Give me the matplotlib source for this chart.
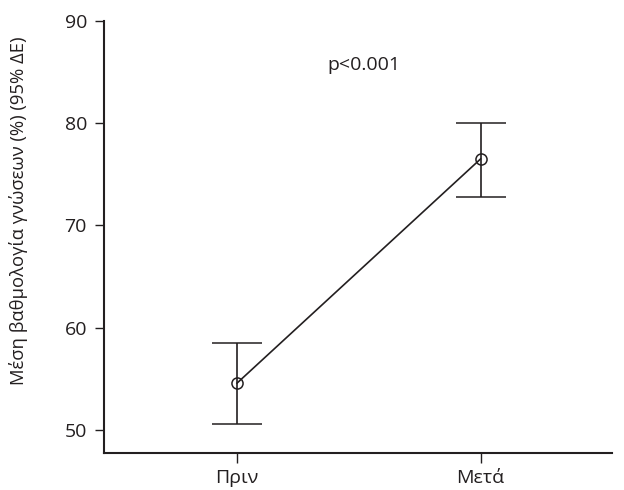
import matplotlib.pyplot as plt

plt.rcParams['font.family'] = ['Open Sans', 'DejaVu Sans']

# Data
GROUPS = ["Πριν", "Μετά"]
MEANS = [54.6, 76.5]
CI_LOW = [50.6, 72.75]
CI_HIGH = [58.55, 80.05]
INK = '#231f20'


def main():
    fig = plt.figure(figsize=(6.24, 4.9), dpi=100)
    ax = fig.add_axes([0.1672, 0.0761, 0.8138, 0.8817])

    x = [1, 2]
    yerr = [[m - lo for m, lo in zip(MEANS, CI_LOW)],
            [hi - m for m, hi in zip(MEANS, CI_HIGH)]]
    ax.errorbar(x, MEANS, yerr=yerr, fmt='o', color=INK, mfc='none', mec=INK,
                markersize=8, mew=1.1, elinewidth=1.2, capsize=18, capthick=1.2, zorder=2)
    ax.plot(x, MEANS, color=INK, linewidth=1.2, zorder=1)

    ax.text(1.52, 85.7, "p<0.001", ha='center', va='center', fontsize=14, color=INK)

    ax.set_xlim(0.455, 2.54)
    ax.set_ylim(47.8, 90)
    ax.set_xticks(x)
    ax.set_xticklabels(GROUPS)
    ax.set_yticks([50, 60, 70, 80, 90])

    for side in ['top', 'right']:
        ax.spines[side].set_visible(False)
    for side in ['left', 'bottom']:
        ax.spines[side].set_linewidth(1.5)
        ax.spines[side].set_color(INK)

    ax.tick_params(axis='y', length=6.5, width=1, color=INK, labelsize=14,
                   labelcolor=INK, pad=6)
    ax.tick_params(axis='x', length=7, width=1, color=INK, labelsize=14,
                   labelcolor=INK, pad=5)

    ax.set_ylabel("Μέση βαθμολογία γνώσεων (%) (95% ΔΕ)", fontsize=13.3, color=INK)
    ax.yaxis.set_label_coords(-0.15, 0.56)

    fig.savefig("out.png", dpi=100)


if __name__ == "__main__":
    main()
